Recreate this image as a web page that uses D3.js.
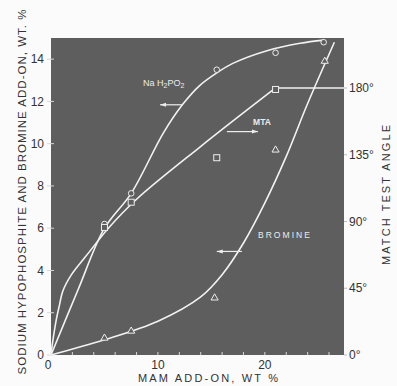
<!doctype html>
<html>
<head>
<meta charset="utf-8">
<script src="https://d3js.org/d3.v7.min.js"></script>
<style>
  body { margin: 0; background: #fbfbfb; }
  text { font-family: "Liberation Sans", sans-serif; fill: #333; }
  .inplot { fill: #ececec; }
</style>
</head>
<body>
<svg width="397" height="386"></svg>
<script>
// curve nodes (x = MAM add-on, wt %)
var naCurve = [[0,0],[2.5,3.05],[5,6.0],[7.5,7.65],[10.5,10.5],[12.3,11.85],[13.9,12.75],[15.5,13.35],[17,13.8],[20.2,14.4],[23.3,14.75],[25.5,14.9]];
var brCurve = [[0,0],[5,0.72],[10,1.6],[14,2.75],[16,3.8],[18,5.3],[20,7.2],[22,9.4],[24,11.9],[26.5,14.8]];
// match test angle, degrees
var mtaCurve = [[0,0],[0.1,6],[0.5,24],[0.8,34],[1.1,43],[1.9,54],[3.2,66],[4.4,77],[5.3,85],[8,105],[13.9,140],[21,180]];
var mtaFlat = [[21,180],[27.4,180]];

var naPoints = [[5,6.2],[7.5,7.65],[15.5,13.5],[21,14.3],[25.5,14.8]];
var mtaPoints = [[5,86],[7.5,103],[15.5,133],[21,179]];
var brPoints = [[5,0.8],[7.5,1.13],[15.3,2.7],[21,9.7],[25.6,13.9]];

var leftTicks = [0,2,4,6,8,10,12,14];
var rightTicks = [0,45,90,135,180];
var bottomTicks = [0,2,4,6,8,10,12,14,16,18,20,22,24,26];
var bottomLabels = [0,10,20];

var svg = d3.select("svg"),
    margin = {top:38, left:51},
    width = 293, height = 317;

var g = svg.append("g").attr("transform", "translate(" + margin.left + "," + margin.top + ")");

var x = d3.scaleLinear().domain([0,27.4]).range([0,width]),
    y = d3.scaleLinear().domain([0,15]).range([height,0]),
    yR = d3.scaleLinear().domain([0,213.7]).range([height,0]);

// dark plot panel
g.append("rect").attr("width", width).attr("height", height).attr("fill", "#5e5e5e");

// ticks
g.selectAll(".lt").data(leftTicks).enter().append("line")
    .attr("x1", -4).attr("x2", 3).attr("y1", d => y(d)).attr("y2", d => y(d))
    .attr("stroke", "#d8d8d8").attr("stroke-width", 1);
g.selectAll(".rt").data(rightTicks).enter().append("line")
    .attr("x1", width).attr("x2", width + 3).attr("y1", d => yR(d)).attr("y2", d => yR(d))
    .attr("stroke", "#bbb").attr("stroke-width", 1);
g.selectAll(".bt").data(bottomTicks).enter().append("line")
    .attr("x1", d => x(d)).attr("x2", d => x(d)).attr("y1", height).attr("y2", height - 3)
    .attr("stroke", "#d8d8d8").attr("stroke-width", 1);

// tick labels
g.selectAll(".ll").data(leftTicks).enter().append("text")
    .attr("x", -7).attr("y", d => y(d)).attr("dy", "0.35em")
    .attr("text-anchor", "end").attr("font-size", 12).text(d => d);
g.selectAll(".rl").data(rightTicks).enter().append("text")
    .attr("x", width + 5).attr("y", d => yR(d)).attr("dy", "0.35em")
    .attr("font-size", 12).text(d => d + "°");
g.selectAll(".bl").data(bottomLabels).enter().append("text")
    .attr("x", d => x(d) - (d === 0 ? 3 : 0)).attr("y", height + 14)
    .attr("text-anchor", "middle").attr("font-size", 12).text(d => d);

// axis titles
svg.append("text")
    .attr("transform", "translate(26,192) rotate(-90)")
    .attr("text-anchor", "middle").attr("font-size", 11.5)
    .attr("textLength", 365).attr("lengthAdjust", "spacing")
    .text("SODIUM HYPOPHOSPHITE AND BROMINE ADD-ON, WT. %");
svg.append("text")
    .attr("transform", "translate(390,195) rotate(-90)")
    .attr("text-anchor", "middle").attr("font-size", 11)
    .attr("textLength", 140).attr("lengthAdjust", "spacing")
    .text("MATCH TEST ANGLE");
svg.append("text")
    .attr("x", 208).attr("y", 382)
    .attr("text-anchor", "middle").attr("font-size", 11)
    .attr("textLength", 140).attr("lengthAdjust", "spacing")
    .text("MAM ADD-ON, WT %");

// curves
var lineL = d3.line().x(d => x(d[0])).y(d => y(d[1])).curve(d3.curveCatmullRom.alpha(0.5)),
    lineR = d3.line().x(d => x(d[0])).y(d => yR(d[1])).curve(d3.curveCatmullRom.alpha(0.5));

g.append("path").attr("d", lineL(naCurve)).attr("fill", "none").attr("stroke", "#f2f2f2").attr("stroke-width", 1.6);
g.append("path").attr("d", lineL(brCurve)).attr("fill", "none").attr("stroke", "#f2f2f2").attr("stroke-width", 1.6);
g.append("path").attr("d", lineR(mtaCurve)).attr("fill", "none").attr("stroke", "#f2f2f2").attr("stroke-width", 1.6);
g.append("path").attr("d", d3.line().x(d => x(d[0])).y(d => yR(d[1]))(mtaFlat))
    .attr("fill", "none").attr("stroke", "#f2f2f2").attr("stroke-width", 1.6);
// the horizontal 180 line runs out to the label
g.append("line").attr("x1", width).attr("x2", width + 3)
    .attr("y1", yR(180)).attr("y2", yR(180)).attr("stroke", "#ddd").attr("stroke-width", 1.4);

// markers
g.selectAll(".na").data(naPoints).enter().append("circle")
    .attr("cx", d => x(d[0])).attr("cy", d => y(d[1])).attr("r", 2.8)
    .attr("fill", "#5e5e5e").attr("stroke", "#eee").attr("stroke-width", 1);
g.selectAll(".mta").data(mtaPoints).enter().append("rect")
    .attr("x", d => x(d[0]) - 3).attr("y", d => yR(d[1]) - 3).attr("width", 6).attr("height", 6)
    .attr("fill", "#5e5e5e").attr("stroke", "#eee").attr("stroke-width", 1);
var tri = d3.symbol().type(d3.symbolTriangle).size(22);
g.selectAll(".br").data(brPoints).enter().append("path")
    .attr("d", tri).attr("transform", d => "translate(" + x(d[0]) + "," + y(d[1]) + ")")
    .attr("fill", "#5e5e5e").attr("stroke", "#eee").attr("stroke-width", 1);

// curve labels and arrows
var arrows = [[12.25,10.2,11.84],[16.45,19.35,10.57],[17.85,15.5,4.9]];
arrows.forEach(function(a){
    var x1 = x(a[0]), x2 = x(a[1]), yy = y(a[2]), dir = x2 > x1 ? 1 : -1;
    g.append("line").attr("x1", x1).attr("x2", x2).attr("y1", yy).attr("y2", yy)
        .attr("stroke", "#eee").attr("stroke-width", 1.2);
    g.append("path").attr("d", "M" + x2 + "," + yy + "L" + (x2 - dir*6) + "," + (yy - 2) + "L" + (x2 - dir*6) + "," + (yy + 2) + "Z")
        .attr("fill", "#eee");
});

var na = g.append("text").attr("class", "inplot").attr("x", x(8.6)).attr("y", y(12.74)).attr("font-size", 9);
na.append("tspan").text("Na H");
na.append("tspan").attr("font-size", 7).attr("dy", 2).text("2");
na.append("tspan").attr("dy", -2).text("PO");
na.append("tspan").attr("font-size", 7).attr("dy", 2).text("2");
g.append("text").attr("class", "inplot").attr("x", x(18.9)).attr("y", y(10.9))
    .attr("font-size", 8.5).attr("font-weight", "bold").text("MTA");
g.append("text").attr("class", "inplot").attr("x", x(19.35)).attr("y", y(5.52))
    .attr("font-size", 8.5).attr("textLength", 52).text("BROMINE");
</script>
</body>
</html>
